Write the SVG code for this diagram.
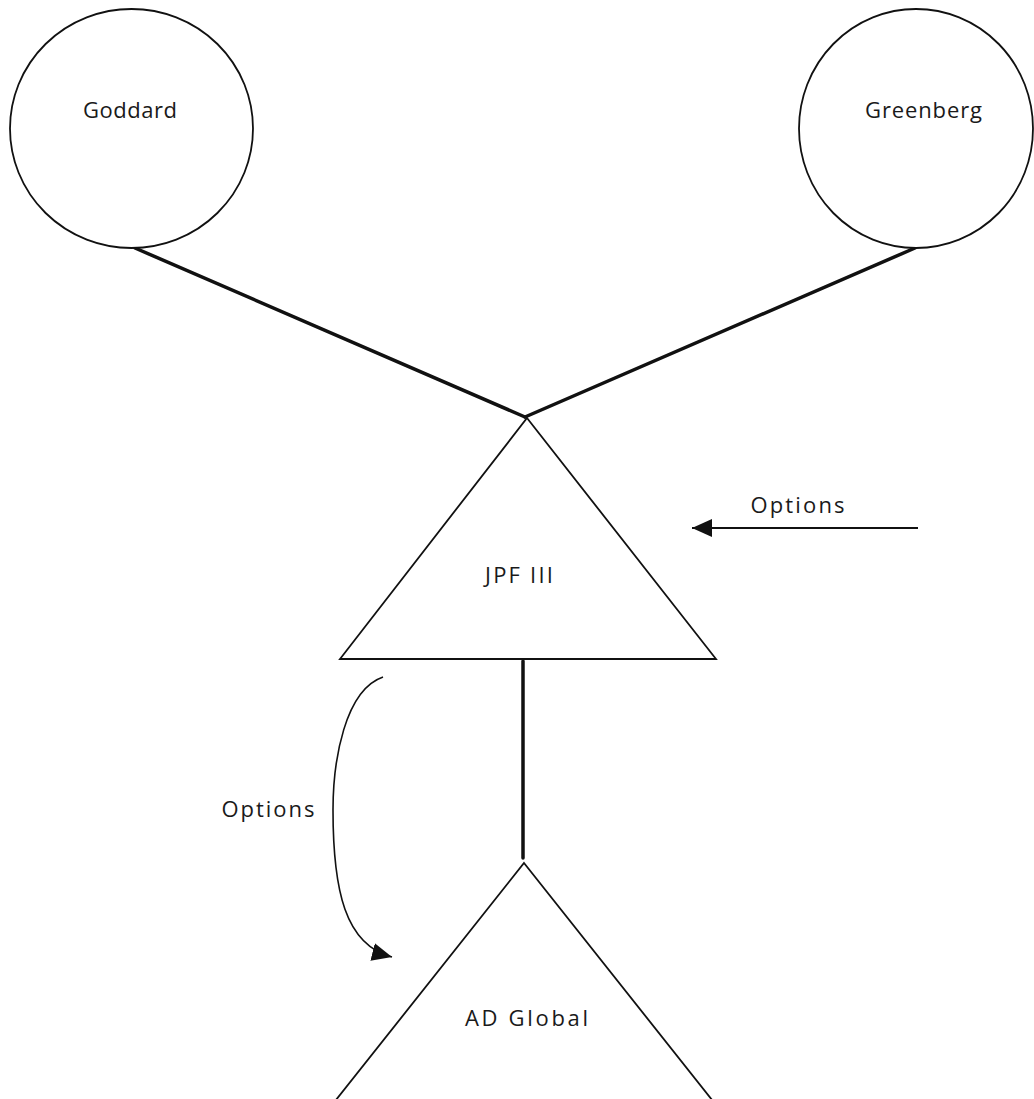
<svg xmlns="http://www.w3.org/2000/svg" width="1034" height="1099" viewBox="0 0 1034 1099">
<style>
.shape{fill:#fff;stroke:#111;stroke-width:1.8}
.conn{stroke:#111;stroke-width:3.5;fill:none;stroke-linecap:round}
.arr{stroke:#111;stroke-width:2;fill:none}
.curve{stroke:#111;stroke-width:1.6;fill:none}
.lbl{font-family:"Open Sans","Noto Sans",sans-serif;font-size:22px;font-weight:500;fill:#1a1a1a;text-anchor:middle}
</style>
<defs>
<marker id="ah" markerUnits="userSpaceOnUse" markerWidth="22" markerHeight="20" refX="20" refY="9" orient="auto">
<path d="M0,0 L20,9 L0,18 Z" fill="#111"/>
</marker>
</defs>
<rect width="1034" height="1099" fill="#fff"/>
<g id="connectors">
<line class="conn" x1="135" y1="248" x2="525" y2="417"/>
<line class="conn" x1="915" y1="248" x2="525" y2="417"/>
<line class="conn" x1="523" y1="661" x2="523" y2="858"/>
<line class="arr" x1="918" y1="528" x2="692" y2="528" marker-end="url(#ah)"/>
<path class="curve" d="M383,677 C345,690 333,760 333,810 C333,890 345,945 392,957" marker-end="url(#ah)"/>
</g>
<g id="goddard">
<ellipse class="shape" cx="131.5" cy="128.5" rx="121.5" ry="119.5"/>
<text class="lbl" x="130" y="118" textLength="94" lengthAdjust="spacing">Goddard</text>
</g>
<g id="greenberg">
<ellipse class="shape" cx="916" cy="128.5" rx="117" ry="119.5"/>
<text class="lbl" x="923.5" y="118" textLength="117" lengthAdjust="spacing">Greenberg</text>
</g>
<g id="jpf3">
<polygon class="shape" points="527,418 716,659 340,659"/>
<text class="lbl" x="519" y="583" textLength="68" lengthAdjust="spacing">JPF III</text>
</g>
<g id="adglobal">
<polygon class="shape" points="524,863 720,1110 328,1110"/>
<text class="lbl" x="526.5" y="1026" textLength="123" lengthAdjust="spacing">AD Global</text>
</g>
<g id="labels">
<text class="lbl" x="797.5" y="513" textLength="94" lengthAdjust="spacing">Options</text>
<text class="lbl" x="268" y="817" textLength="93" lengthAdjust="spacing">Options</text>
</g>
</svg>
